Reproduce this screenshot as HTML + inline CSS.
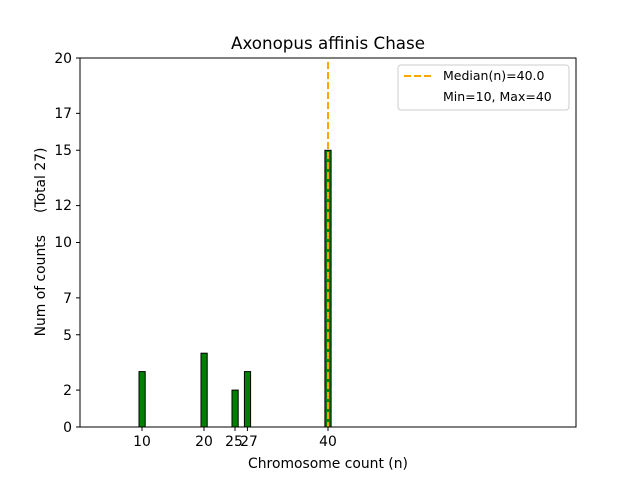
<!DOCTYPE html>
<html><head><style>body{margin:0;background:#fff}svg{display:block}</style></head><body>
<svg width="640" height="480" xmlns="http://www.w3.org/2000/svg" font-family="DejaVu Sans, sans-serif">
<rect width="640" height="480" fill="#fff"/>
<text x="328" y="49" font-size="16.7" text-anchor="middle">Axonopus affinis Chase</text>
<line x1="86" y1="427" x2="350" y2="427" stroke="#000" stroke-width="1"/>
<g fill="#008000" stroke="#000" stroke-width="1">
<rect x="139" y="371.6" width="6.2" height="55.4"/>
<rect x="201" y="353.2" width="6.2" height="73.8"/>
<rect x="232" y="390.1" width="6.2" height="36.9"/>
<rect x="244.4" y="371.6" width="6.2" height="55.4"/>
<rect x="324.9" y="150.3" width="6.2" height="276.7"/>
</g>
<line x1="328" y1="62" x2="328" y2="427" stroke="#FFA500" stroke-width="2" stroke-dasharray="7,3"/>
<rect x="80" y="58" width="496" height="369" fill="none" stroke="#000" stroke-width="1"/>
<g font-size="13.9" text-anchor="end">
<g stroke="#000"><line x1="76" y1="427" x2="80" y2="427"/><line x1="76" y1="390.1" x2="80" y2="390.1"/><line x1="76" y1="334.75" x2="80" y2="334.75"/><line x1="76" y1="297.85" x2="80" y2="297.85"/><line x1="76" y1="242.5" x2="80" y2="242.5"/><line x1="76" y1="205.6" x2="80" y2="205.6"/><line x1="76" y1="150.25" x2="80" y2="150.25"/><line x1="76" y1="113.35" x2="80" y2="113.35"/><line x1="76" y1="58" x2="80" y2="58"/></g>
<text x="72" y="432">0</text><text x="72" y="395">2</text><text x="72" y="340">5</text><text x="72" y="303">7</text><text x="72" y="247">10</text><text x="72" y="210">12</text><text x="72" y="155">15</text><text x="72" y="118">17</text><text x="72" y="63">20</text>
</g>
<g font-size="13.9" text-anchor="middle">
<g stroke="#000"><line x1="142" y1="427" x2="142" y2="431"/><line x1="204" y1="427" x2="204" y2="431"/><line x1="235" y1="427" x2="235" y2="431"/><line x1="247.4" y1="427" x2="247.4" y2="431"/><line x1="328" y1="427" x2="328" y2="431"/></g>
<text x="142" y="446">10</text><text x="204" y="446">20</text><text x="234" y="446">25</text><text x="249" y="446">27</text><text x="328" y="446">40</text>
<text x="328" y="468">Chromosome count (n)</text>
</g>
<text transform="translate(45,242) rotate(-90)" font-size="13.9" text-anchor="middle" style="white-space:pre" xml:space="preserve">Num of counts     (Total 27)</text>
<rect x="398" y="65" width="171" height="45" rx="3" fill="#fff" stroke="#ccc"/>
<line x1="404" y1="76" x2="432" y2="76" stroke="#FFA500" stroke-width="2" stroke-dasharray="7,3"/>
<text x="443" y="80" font-size="12.5">Median(n)=40.0</text>
<text x="443" y="101" font-size="12.5">Min=10, Max=40</text>
</svg>
</body></html>
